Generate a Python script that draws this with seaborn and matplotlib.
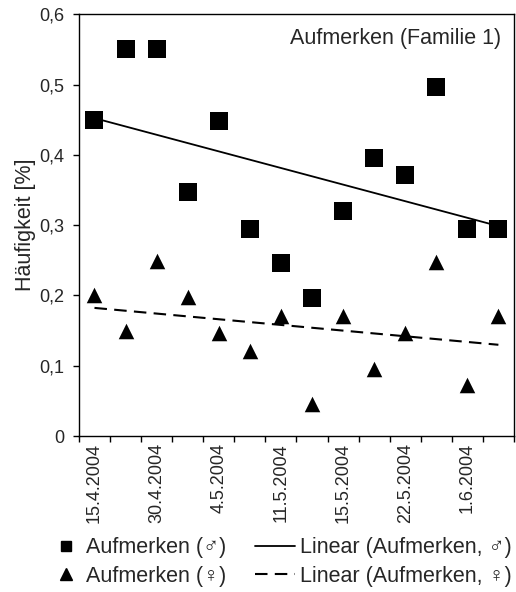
import numpy as np
import pandas as pd
import seaborn as sns
import matplotlib.pyplot as plt
from matplotlib.lines import Line2D
from matplotlib.ticker import FixedLocator, FuncFormatter

pos = list(range(14))
maennlich = [0.45, 0.55, 0.55, 0.347, 0.448, 0.295, 0.246, 0.196, 0.32, 0.396, 0.371, 0.496, 0.295, 0.295]
weiblich = [0.20, 0.149, 0.249, 0.198, 0.147, 0.121, 0.171, 0.046, 0.171, 0.096, 0.146, 0.247, 0.072, 0.171]
label_pos = [0, 2, 4, 6, 8, 10, 12]
dates = ["15.4.2004", "30.4.2004", "4.5.2004", "11.5.2004", "15.5.2004", "22.5.2004", "1.6.2004"]

df = pd.DataFrame({"tag": pos, "m": maennlich, "w": weiblich})

sns.set_style("ticks")
plt.rcParams["font.family"] = ["Liberation Sans", "DejaVu Sans"]
plt.rcParams["font.size"] = 12

fig = plt.figure(figsize=(5.16, 5.92), dpi=100)
ax = fig.add_axes([0.153, 0.2635, 0.843, 0.7125])

dash = (0, (6, 3.5))
sns.scatterplot(data=df, x="tag", y="m", marker="s", s=150, color="black", linewidth=0, ax=ax)
sns.scatterplot(data=df, x="tag", y="w", marker="^", s=125, color="black", linewidth=0, ax=ax)
sns.regplot(data=df, x="tag", y="m", scatter=False, ci=None, ax=ax,
            line_kws={"color": "black", "lw": 1.3})
sns.regplot(data=df, x="tag", y="w", scatter=False, ci=None, ax=ax,
            line_kws={"color": "black", "lw": 1.5, "linestyle": dash})

ax.set_xlim(-0.5, 13.5)
ax.set_ylim(0, 0.6)
ax.set_yticks(np.arange(0, 0.61, 0.1))
ax.yaxis.set_major_formatter(FuncFormatter(lambda v, _: "0" if abs(v) < 1e-9 else f"{v:.1f}".replace(".", ",")))

# category borders get the tick marks, labels sit in between
ax.xaxis.set_major_locator(FixedLocator(np.arange(-0.5, 14, 1)))
ax.xaxis.set_major_formatter(FuncFormatter(lambda v, _: ""))
ax.set_xticks(label_pos, minor=True)
ax.set_xticklabels(dates, minor=True, rotation=90, fontsize=13)
ax.tick_params(axis="x", which="minor", length=0, pad=5)
ax.tick_params(axis="both", which="major", direction="out", length=4.5, width=1, color="black")
ax.tick_params(axis="y", labelsize=13, pad=6)

ax.set_xlabel("")
ax.set_ylabel("Häufigkeit [%]", fontsize=15.5, labelpad=2)
for sp in ax.spines.values():
    sp.set_visible(True)
    sp.set_color("black")
    sp.set_linewidth(1)

ax.text(0.97, 0.942, "Aufmerken (Familie 1)", transform=ax.transAxes,
        ha="right", va="center", fontsize=15.5)

# legend below the plot, two independent columns
fs = 15.5
col1 = [Line2D([], [], marker="s", color="black", linestyle="none", markersize=6.5),
        Line2D([], [], marker="^", color="black", linestyle="none", markersize=8)]
col2 = [Line2D([], [], color="black", lw=1.3),
        Line2D([], [], color="black", lw=1.5, linestyle=dash)]
fig.legend(col1, ["Aufmerken (♂)", "Aufmerken (♀)"], loc="center left",
           bbox_to_anchor=(0.1066, 0.0507), frameon=False, fontsize=fs,
           handlelength=1.0, handletextpad=0.45, labelspacing=0.36,
           borderpad=0, borderaxespad=0)
fig.legend(col2, ["Linear (Aufmerken, ♂)", "Linear (Aufmerken, ♀)"], loc="center left",
           bbox_to_anchor=(0.494, 0.0507), frameon=False, fontsize=fs,
           handlelength=1.86, handletextpad=0.23, labelspacing=0.36,
           borderpad=0, borderaxespad=0)

fig.savefig("out.png", dpi=100)
